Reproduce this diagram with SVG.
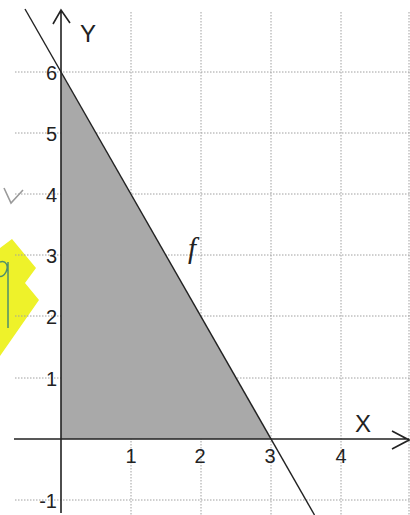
<svg xmlns="http://www.w3.org/2000/svg" width="410" height="515" viewBox="0 0 410 515">
<style>
.grid{stroke:#a0a0a0;stroke-width:1;stroke-dasharray:1.5,1.5;fill:none}
.axis{stroke:#222;stroke-width:1.6;fill:none}
.lbl{font-family:"Liberation Sans",Arial,sans-serif;font-size:20px;fill:#222}
.ax{font-family:"Liberation Sans",Arial,sans-serif;font-size:24px;fill:#222}
</style>
<rect width="410" height="515" fill="#fff"/>
<g id="scribbles">
<path d="M0,248 L12,239 L36,268 L25,283 L39,300 L0,356 Z" fill="#eef22a"/>
<path d="M4,188 L11,203 L23,190" fill="none" stroke="#9a9a9a" stroke-width="1.6"/>
<path d="M0,262 C6,260 9,266 6,272 C4,276 1,277 0,276 M8,262 L8,328" fill="none" stroke="#4f8f6a" stroke-width="1.5"/>
</g>
<g id="grid">
<path class="grid" d="M15,72H410M15,133H410M15,194H410M15,255H410M15,316H410M15,378H410M15,500H410"/>
<path class="grid" d="M131,12V515M201,12V515M271,12V515M341,12V515M409,12V515"/>
</g>
<g id="region">
<polygon points="61,72 61,439 271,439" fill="#a9a9a9"/>
</g>
<g id="connectors">
<path class="axis" d="M61,513V10M53,24L61,10L70,23"/>
<path class="axis" d="M14,439H409M392,431L409,440L392,449"/>
<line x1="25" y1="9" x2="314.5" y2="515" stroke="#222" stroke-width="1.4"/>
</g>
<g id="labels">
<text class="ax" x="80" y="42">Y</text>
<text class="ax" x="355" y="432">X</text>
<text x="188" y="258" font-family="'Liberation Serif','Times New Roman',serif" font-style="italic" font-size="29" fill="#222">f</text>
<g class="lbl" text-anchor="end">
<text x="57" y="80">6</text>
<text x="57" y="141">5</text>
<text x="57" y="202">4</text>
<text x="57" y="263">3</text>
<text x="57" y="324">2</text>
<text x="57" y="386">1</text>
<text x="57" y="508">-1</text>
</g>
<g class="lbl" text-anchor="middle">
<text x="131" y="463">1</text>
<text x="200" y="463">2</text>
<text x="270" y="463">3</text>
<text x="341" y="463">4</text>
</g>
</g>
</svg>
